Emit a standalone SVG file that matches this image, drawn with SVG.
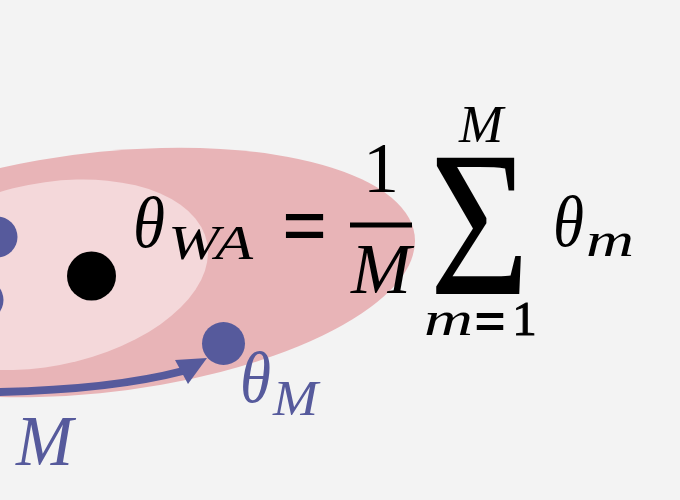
<svg xmlns="http://www.w3.org/2000/svg" width="680" height="500" viewBox="0 0 680 500">
<style>
.it{font-family:"Liberation Serif","DejaVu Serif",serif;font-style:italic}
.up{font-family:"Liberation Serif","DejaVu Serif",serif;font-style:normal}
.k{fill:#000000}
.b{fill:#565a9c}
.eq{stroke:#000000;stroke-width:1.6}
.arrow{fill:none;stroke:#565a9c;stroke-width:8}
</style>
<rect width="680" height="500" fill="#f3f3f3"/>
<g id="outer-region"><ellipse cx="0" cy="0" rx="315" ry="120.7" transform="translate(100,272.5) matrix(1,-0.1,0,1,0,0)" fill="#e8b4b7"/></g>
<g id="inner-region"><ellipse cx="0" cy="0" rx="163" ry="92.6" transform="translate(45,274.8) matrix(1,-0.1375,0,1,0,0)" fill="#f4d8da"/></g>
<g id="point-1"><circle cx="-3" cy="237" r="20.5" class="b"/></g>
<g id="point-2"><circle cx="-17" cy="300" r="20.5" class="b"/></g>
<g id="weighted-average"><circle cx="91.5" cy="276" r="24.5" class="k"/></g>
<g id="point-M"><circle cx="223.5" cy="343.5" r="21.5" class="b"/></g>
<g id="connectors">
<path class="arrow" d="M -5 392 Q 110 390 183 371"/>
<polygon class="b" points="175,360 207,358 188,384"/>
</g>
<g id="label-M"><text class="it b" x="16" y="465" font-size="71" textLength="57" lengthAdjust="spacingAndGlyphs">M</text></g>
<g id="label-theta-M">
<text class="it b" x="240" y="402" font-size="72" textLength="31" lengthAdjust="spacingAndGlyphs">θ</text>
<text class="it b" x="273" y="415" font-size="50" textLength="45" lengthAdjust="spacingAndGlyphs">M</text>
</g>
<g id="formula">
<text class="it k" x="133" y="247" font-size="72" textLength="32" lengthAdjust="spacingAndGlyphs">θ</text>
<text class="it k" x="168" y="259" font-size="48" textLength="85" lengthAdjust="spacingAndGlyphs">WA</text>
<text class="up k eq" transform="translate(283,255) scale(1,1.2)" x="0" y="0" font-size="72" textLength="43" lengthAdjust="spacingAndGlyphs">=</text>
<text class="up k" x="381" y="192" font-size="72" text-anchor="middle">1</text>
<rect x="350" y="222.5" width="62" height="5" class="k"/>
<text class="it k" x="381" y="293" font-size="72" text-anchor="middle">M</text>
<text class="up k" transform="translate(479.5,294) scale(0.83,1)" font-size="207" text-anchor="middle">Σ</text>
<text class="it k" x="481" y="142" font-size="53" text-anchor="middle">M</text>
<text class="it k" x="424" y="335" font-size="49" textLength="49" lengthAdjust="spacingAndGlyphs">m</text>
<text class="up k eq" transform="translate(475,341) scale(1,1.2)" x="0" y="0" font-size="49" textLength="30" lengthAdjust="spacingAndGlyphs">=</text>
<text class="up k" x="524.5" y="335" font-size="49" text-anchor="middle" stroke="#000" stroke-width="1">1</text>
<text class="it k" x="553" y="246" font-size="72" textLength="31" lengthAdjust="spacingAndGlyphs">θ</text>
<text class="it k" x="586" y="256" font-size="48" textLength="48" lengthAdjust="spacingAndGlyphs">m</text>
</g>
</svg>
